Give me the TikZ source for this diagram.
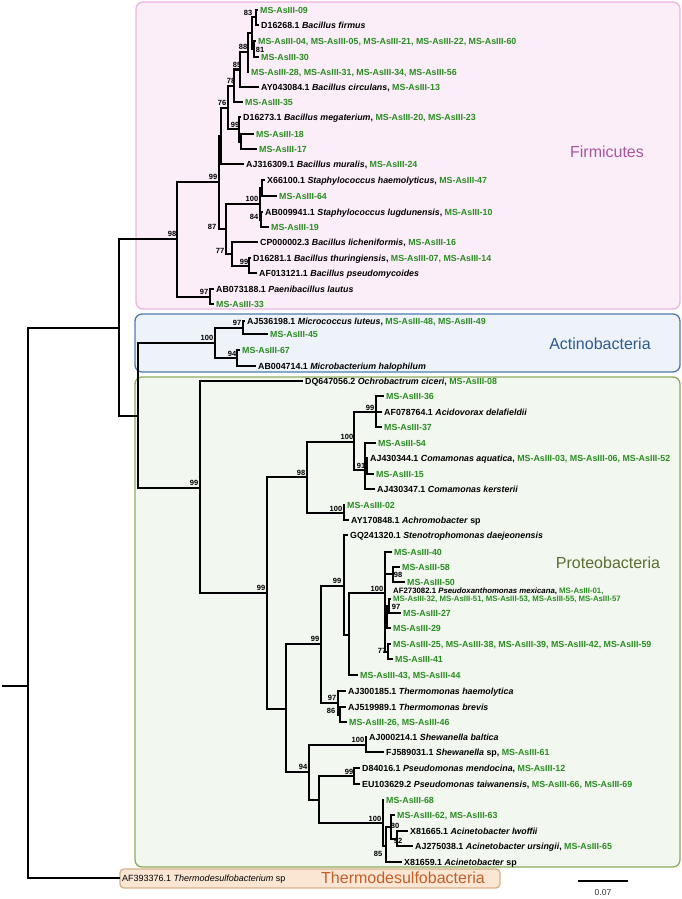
\documentclass[tikz,border=0pt]{standalone}
\usepackage{fontspec}
\setmainfont{Liberation Sans}
\definecolor{msg}{HTML}{2A8C22}
\definecolor{firmfill}{HTML}{FCEEF8}
\definecolor{firmline}{HTML}{E9B5DF}
\definecolor{firmtext}{HTML}{A8579F}
\definecolor{actfill}{HTML}{EEF3FA}
\definecolor{actline}{HTML}{4F7AAE}
\definecolor{acttext}{HTML}{2F5A8C}
\definecolor{profill}{HTML}{F2F8EF}
\definecolor{proline}{HTML}{8DAA5E}
\definecolor{protext}{HTML}{5A6E32}
\definecolor{thfill}{HTML}{FBE6D4}
\definecolor{thline}{HTML}{D4B08A}
\definecolor{thtext}{HTML}{C0602A}
\newcommand{\lfont}{\fontsize{8.85}{10}\selectfont\bfseries}
\newcommand{\slfont}{\fontsize{7.8}{9}\selectfont\bfseries}
\newcommand{\bsfont}{\fontsize{7.5}{8}\selectfont\bfseries}
\newcommand{\ms}[1]{\textcolor{msg}{#1}}
\begin{document}
\begin{tikzpicture}[x=1pt,y=-1pt,
  tree/.style={line width=2pt},
  lf/.style={anchor=west,inner xsep=2.5pt,inner ysep=0pt,text height=6.3pt,text depth=0pt,font=\lfont},
  slf/.style={anchor=west,inner xsep=2.5pt,inner ysep=0pt,text height=5.6pt,text depth=0pt,font=\slfont},
  bs/.style={inner sep=0pt,font=\bsfont},
  clade/.style={inner sep=0pt,font=\fontsize{16}{18}\selectfont},
  cbox/.style={rounded corners=7pt,line width=1.3pt}]
\useasboundingbox (0,0) rectangle (682,899);
% clade boxes
\draw[cbox,draw=firmline,fill=firmfill] (136,2) rectangle (680,309);
\draw[cbox,draw=actline,fill=actfill] (135,314) rectangle (680,372);
\draw[cbox,draw=proline,fill=profill] (135,377) rectangle (680,867);
\draw[cbox,draw=thline,fill=thfill,rounded corners=4pt] (120,869) rectangle (500,888);
% clade labels
\node[clade,text=firmtext] (lfirm) at (607,152) {Firmicutes};
\node[clade,text=acttext] (lact) at (600,344) {Actinobacteria};
\node[clade,text=protext] (lpro) at (608,563) {Proteobacteria};
\node[clade,text=thtext] (lth) at (403,878) {Thermodesulfobacteria};
% internal nodes
\coordinate (rs) at (2,686);
\coordinate (root) at (28,686);
\coordinate (nA) at (119,327.5);
\coordinate (n98) at (177,239);
\coordinate (n99) at (219,182);
\coordinate (nu2) at (221,136);
\coordinate (n76) at (228,108);
\coordinate (n78) at (234,86);
\coordinate (n85) at (240,69.5);
\coordinate (n88) at (248,52.5);
\coordinate (nu1) at (252,33);
\coordinate (n83) at (256,17.5);
\coordinate (n81) at (254,49);
\coordinate (n99m) at (239,129);
\coordinate (n99ms) at (241,141.5);
\coordinate (n87) at (226,229);
\coordinate (n100s) at (260,203.5);
\coordinate (nst1) at (261.5,188);
\coordinate (n84) at (261,219.5);
\coordinate (n77) at (232,253.5);
\coordinate (n99t) at (249,265.5);
\coordinate (n97p) at (210,296.5);
\coordinate (nAP) at (138,416);
\coordinate (n100a) at (215,343);
\coordinate (n97a) at (243,327.5);
\coordinate (n94a) at (237,358);
\coordinate (n99p) at (200,488);
\coordinate (n99b) at (267,593);
\coordinate (n98p) at (307,477);
\coordinate (n100c) at (354,441.5);
\coordinate (n99ac) at (376,412);
\coordinate (n91) at (365,470);
\coordinate (ni) at (367,466);
\coordinate (n100ach) at (344,513);
\coordinate (nu286) at (286,708.5);
\coordinate (n99c) at (321,644);
\coordinate (n99d) at (344,586);
\coordinate (nu349) at (349,635);
\coordinate (n100x) at (385,593);
\coordinate (n98ps) at (393,574);
\coordinate (nin) at (387,612);
\coordinate (n97x) at (389,606);
\coordinate (n77x) at (388,651.5);
\coordinate (n97t) at (338,703);
\coordinate (n86) at (340,714.5);
\coordinate (n94) at (309,772);
\coordinate (n100sh) at (366,744.5);
\coordinate (nu319) at (319,800);
\coordinate (n99ps) at (354,776);
\coordinate (n100acin) at (383,823);
\coordinate (n85ac) at (385.5,846);
\coordinate (n80) at (391,827);
\coordinate (n92) at (397,838.5);
% leaves: Firmicutes
\node[lf] (f1) at (257.5,10) {\ms{MS-AsIII-09}};
\node[lf] (f2) at (258.5,25) {D16268.1 \textit{Bacillus firmus}};
\node[lf] (f3) at (255.5,41) {\ms{MS-AsIII-04, MS-AsIII-05, MS-AsIII-21, MS-AsIII-22, MS-AsIII-60}};
\node[lf] (f4) at (258.5,57) {\ms{MS-AsIII-30}};
\node[lf] (f5) at (248.5,72) {\ms{MS-AsIII-28, MS-AsIII-31, MS-AsIII-34, MS-AsIII-56}};
\node[lf] (f6) at (258.5,87) {AY043084.1 \textit{Bacillus circulans}, \ms{MS-AsIII-13}};
\node[lf] (f7) at (242.5,102) {\ms{MS-AsIII-35}};
\node[lf] (f8) at (240.5,117) {D16273.1 \textit{Bacillus megaterium}, \ms{MS-AsIII-20, MS-AsIII-23}};
\node[lf] (f9) at (253.5,134) {\ms{MS-AsIII-18}};
\node[lf] (f10) at (256.5,149) {\ms{MS-AsIII-17}};
\node[lf] (f11) at (243.5,164) {AJ316309.1 \textit{Bacillus muralis}, \ms{MS-AsIII-24}};
\node[lf] (f12) at (264.5,180) {X66100.1 \textit{Staphylococcus haemolyticus}, \ms{MS-AsIII-47}};
\node[lf] (f13) at (276.5,196) {\ms{MS-AsIII-64}};
\node[lf] (f14) at (262.5,212) {AB009941.1 \textit{Staphylococcus lugdunensis}, \ms{MS-AsIII-10}};
\node[lf] (f15) at (268.5,227) {\ms{MS-AsIII-19}};
\node[lf] (f16) at (257.5,242) {CP000002.3 \textit{Bacillus licheniformis}, \ms{MS-AsIII-16}};
\node[lf] (f17) at (250.5,258) {D16281.1 \textit{Bacillus thuringiensis}, \ms{MS-AsIII-07, MS-AsIII-14}};
\node[lf] (f18) at (256.5,273) {AF013121.1 \textit{Bacillus pseudomycoides}};
\node[lf] (f19) at (213.5,289) {AB073188.1 \textit{Paenibacillus lautus}};
\node[lf] (f20) at (213.5,304) {\ms{MS-AsIII-33}};
% leaves: Actinobacteria
\node[lf] (a1) at (244.5,321) {AJ536198.1 \textit{Micrococcus luteus}, \ms{MS-AsIII-48, MS-AsIII-49}};
\node[lf] (a2) at (267.5,334) {\ms{MS-AsIII-45}};
\node[lf] (a3) at (239.5,350) {\ms{MS-AsIII-67}};
\node[lf] (a4) at (255.5,366) {AB004714.1 \textit{Microbacterium halophilum}};
% leaves: Proteobacteria
\node[lf] (p1) at (302.5,381) {DQ647056.2 \textit{Ochrobactrum ciceri}, \ms{MS-AsIII-08}};
\node[lf] (p2) at (383.5,396) {\ms{MS-AsIII-36}};
\node[lf] (p3) at (381.5,412) {AF078764.1 \textit{Acidovorax delafieldii}};
\node[lf] (p4) at (381.5,427) {\ms{MS-AsIII-37}};
\node[lf] (p5) at (375.5,443) {\ms{MS-AsIII-54}};
\node[lf] (p6) at (367.5,458) {AJ430344.1 \textit{Comamonas aquatica}, \ms{MS-AsIII-03, MS-AsIII-06, MS-AsIII-52}};
\node[lf] (p7) at (373.5,474) {\ms{MS-AsIII-15}};
\node[lf] (p8) at (374.5,489) {AJ430347.1 \textit{Comamonas kersterii}};
\node[lf] (p9) at (344.5,505) {\ms{MS-AsIII-02}};
\node[lf] (p10) at (348.5,520) {AY170848.1 \textit{Achromobacter} sp};
\node[lf] (p11) at (347.5,535) {GQ241320.1 \textit{Stenotrophomonas daejeonensis}};
\node[lf] (p12) at (391.5,552) {\ms{MS-AsIII-40}};
\node[lf] (p13) at (399.5,567) {\ms{MS-AsIII-58}};
\node[lf] (p14) at (404.5,582) {\ms{MS-AsIII-50}};
\node[slf] (p15) at (390.5,591) {AF273082.1 \textit{Pseudoxanthomonas mexicana}, \ms{MS-AsIII-01,}};
\node[slf] (p15b) at (390.5,599) {\ms{MS-AsIII-32, MS-AsIII-51, MS-AsIII-53, MS-AsIII-55, MS-AsIII-57}};
\node[lf] (p16) at (400.5,613) {\ms{MS-AsIII-27}};
\node[lf] (p17) at (390.5,628) {\ms{MS-AsIII-29}};
\node[lf] (p18) at (390.5,644) {\ms{MS-AsIII-25, MS-AsIII-38, MS-AsIII-39, MS-AsIII-42, MS-AsIII-59}};
\node[lf] (p19) at (392.5,659) {\ms{MS-AsIII-41}};
\node[lf] (p20) at (357.5,675) {\ms{MS-AsIII-43, MS-AsIII-44}};
\node[lf] (p21) at (345.5,691) {AJ300185.1 \textit{Thermomonas haemolytica}};
\node[lf] (p22) at (345.5,707) {AJ519989.1 \textit{Thermomonas brevis}};
\node[lf] (p23) at (346.5,722) {\ms{MS-AsIII-26, MS-AsIII-46}};
\node[lf] (p24) at (366.5,737) {AJ000214.1 \textit{Shewanella baltica}};
\node[lf] (p25) at (383.5,752) {FJ589031.1 \textit{Shewanella} sp, \ms{MS-AsIII-61}};
\node[lf] (p26) at (359.5,768) {D84016.1 \textit{Pseudomonas mendocina}, \ms{MS-AsIII-12}};
\node[lf] (p27) at (359.5,784) {EU103629.2 \textit{Pseudomonas taiwanensis}, \ms{MS-AsIII-66, MS-AsIII-69}};
\node[lf] (p28) at (383.5,800) {\ms{MS-AsIII-68}};
\node[lf] (p29) at (394.5,815) {\ms{MS-AsIII-62, MS-AsIII-63}};
\node[lf] (p30) at (407.5,831) {X81665.1 \textit{Acinetobacter lwoffii}};
\node[lf] (p31) at (412.5,846) {AJ275038.1 \textit{Acinetobacter ursingii}, \ms{MS-AsIII-65}};
\node[lf] (p32) at (401.5,862) {X81659.1 \textit{Acinetobacter} sp};
\node[anchor=west,inner xsep=2.5pt,inner ysep=0pt,text height=6.3pt,text depth=0pt,font=\fontsize{9}{10}\selectfont] (t1) at (119.5,878) {AF393376.1 \textit{Thermodesulfobacterium} sp};
% branches
\draw[tree] (rs) -- (root);
\foreach \a/\b in {root/nA,root/t1.west,nA/n98,nA/nAP,n98/n99,n98/n97p,
  n99/nu2,n99/n87,nu2/n76,nu2/f11.west,n76/n78,n76/n99m,n78/n85,n78/f7.west,
  n85/n88,n85/f6.west,n88/nu1,n88/f5.west,nu1/n83,nu1/n81,n83/f1.west,n83/f2.west,
  n81/f3.west,n81/f4.west,n99m/f8.west,n99m/n99ms,n99ms/f9.west,n99ms/f10.west,
  n87/n100s,n87/n77,n100s/nst1,n100s/n84,nst1/f12.west,nst1/f13.west,
  n84/f14.west,n84/f15.west,n77/f16.west,n77/n99t,n99t/f17.west,n99t/f18.west,
  n97p/f19.west,n97p/f20.west,
  nAP/n100a,nAP/n99p,n100a/n97a,n100a/n94a,n97a/a1.west,n97a/a2.west,n94a/a3.west,n94a/a4.west,
  n99p/p1.west,n99p/n99b,n99b/n98p,n99b/nu286,n98p/n100c,n98p/n100ach,
  n100c/n99ac,n100c/n91,n99ac/p2.west,n99ac/p3.west,n99ac/p4.west,
  n91/p5.west,n91/ni,n91/p8.west,ni/p6.west,ni/p7.west,n100ach/p9.west,n100ach/p10.west,
  nu286/n99c,nu286/n94,n99c/n99d,n99c/n97t,n99d/p11.west,n99d/nu349,
  nu349/n100x,nu349/p20.west,n100x/p12.west,n100x/n98ps,n100x/nin,n100x/n77x,
  n98ps/p13.west,n98ps/p14.west,nin/n97x,nin/p17.west,n97x/p15b.west,n97x/p16.west,
  n77x/p18.west,n77x/p19.west,n97t/p21.west,n97t/n86,n86/p22.west,n86/p23.west,
  n94/n100sh,n94/nu319,n100sh/p24.west,n100sh/p25.west,nu319/n99ps,nu319/n100acin,
  n99ps/p26.west,n99ps/p27.west,n100acin/p28.west,n100acin/n85ac,
  n85ac/n80,n85ac/p32.west,n80/p29.west,n80/n92,n92/p30.west,n92/p31.west}
  {\draw[tree] (\a) |- (\b);}
% bootstrap values
\node[bs] (b1) at (248,13) {83};
\node[bs] (b2) at (243,47) {88};
\node[bs] (b3) at (260,50) {81};
\node[bs] (b4) at (237,65) {85};
\node[bs] (b5) at (231,81) {78};
\node[bs] (b6) at (222,103) {76};
\node[bs] (b7) at (235,125) {99};
\node[bs] (b8) at (213,177) {99};
\node[bs] (b9) at (172,234) {98};
\node[bs] (b10) at (252,199) {100};
\node[bs] (b11) at (254,217) {84};
\node[bs] (b12) at (212,227) {87};
\node[bs] (b13) at (220,251) {77};
\node[bs] (b14) at (244,262) {99};
\node[bs] (b15) at (204,292) {97};
\node[bs] (b16) at (207,338) {100};
\node[bs] (b17) at (237,323) {97};
\node[bs] (b18) at (232,354) {94};
\node[bs] (b19) at (194,483) {99};
\node[bs] (b20) at (301,473) {98};
\node[bs] (b21) at (347,437) {100};
\node[bs] (b22) at (370,408) {99};
\node[bs] (b23) at (361,466) {91};
\node[bs] (b24) at (336,509) {100};
\node[bs] (b25) at (261,588) {99};
\node[bs] (b26) at (315,639) {99};
\node[bs] (b27) at (337,581) {99};
\node[bs] (b28) at (377,589) {100};
\node[bs] (b29) at (398,575) {98};
\node[bs] (b30) at (396,607) {97};
\node[bs] (b31) at (382,651) {77};
\node[bs] (b32) at (332,698) {97};
\node[bs] (b33) at (331,711) {86};
\node[bs] (b34) at (358,740) {100};
\node[bs] (b35) at (303,767) {94};
\node[bs] (b36) at (349,772) {99};
\node[bs] (b37) at (375,819) {100};
\node[bs] (b38) at (395,826) {80};
\node[bs] (b39) at (398,841) {92};
\node[bs] (b40) at (378,854) {85};
% scale bar
\coordinate (sb1) at (578,881);
\coordinate (sb2) at (628,881);
\draw[line width=2pt] (sb1) -- (sb2);
\node[inner sep=0pt,font=\fontsize{8.5}{9}\selectfont,text=black!80] (sbl) at (603,893) {0.07};
\end{tikzpicture}
\end{document}
